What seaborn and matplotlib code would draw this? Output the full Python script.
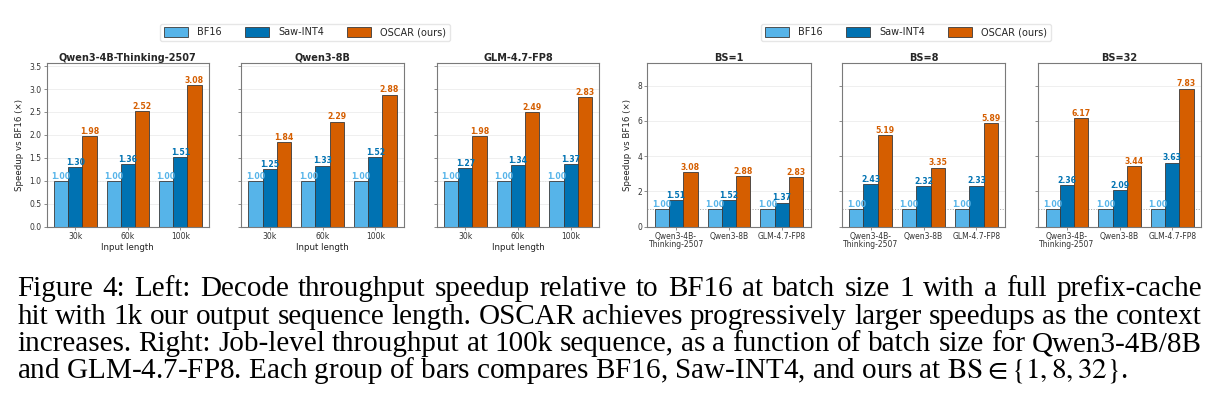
import numpy as np
import pandas as pd
import matplotlib
matplotlib.use("Agg")
import matplotlib.pyplot as plt
import seaborn as sns
from matplotlib.patches import Patch

# ---------------- data ----------------
methods = ["BF16", "Saw-INT4", "OSCAR (ours)"]
colors = ["#56B4E9", "#0072B2", "#D55E00"]

input_lengths = ["30k", "60k", "100k"]
left_titles = ["Qwen3-4B-Thinking-2507", "Qwen3-8B", "GLM-4.7-FP8"]
bf16_len = [1.00, 1.00, 1.00]
saw_qwen4b_len = [1.30, 1.36, 1.51]
oscar_qwen4b_len = [1.98, 2.52, 3.08]
saw_qwen8b_len = [1.25, 1.33, 1.52]
oscar_qwen8b_len = [1.84, 2.29, 2.88]
saw_glm_len = [1.27, 1.34, 1.37]
oscar_glm_len = [1.98, 2.49, 2.83]

model_labels = ["Qwen3-4B-\nThinking-2507", "Qwen3-8B", "GLM-4.7-FP8"]
right_titles = ["BS=1", "BS=8", "BS=32"]
bf16_bs = [1.00, 1.00, 1.00]
saw_bs1 = [1.51, 1.52, 1.37]
oscar_bs1 = [3.08, 2.88, 2.83]
saw_bs8 = [2.43, 2.32, 2.33]
oscar_bs8 = [5.19, 3.35, 5.89]
saw_bs32 = [2.36, 2.09, 3.63]
oscar_bs32 = [6.17, 3.44, 7.83]

left_yticks = [0.0, 0.5, 1.0, 1.5, 2.0, 2.5, 3.0, 3.5]
right_yticks = [0, 2, 4, 6, 8]

caption_lines = [
    "Figure 4: Left: Decode throughput speedup relative to BF16 at batch size 1 with a full prefix-cache",
    "hit with 1k our output sequence length. OSCAR achieves progressively larger speedups as the context",
    "increases. Right: Job-level throughput at 100k sequence, as a function of batch size for Qwen3-4B/8B",
]
caption_last = r"and GLM-4.7-FP8. Each group of bars compares BF16, Saw-INT4, and ours at $\mathrm{BS} \in \{1, 8, 32\}$."

# ---------------- style ----------------
sns.set_theme(style="whitegrid")
plt.rcParams.update({
    "font.family": ["DejaVu Sans"],
    "mathtext.fontset": "stix",
    "axes.edgecolor": "#7a7a7a",
    "axes.linewidth": 0.8,
    "grid.color": "#ececec",
    "grid.linewidth": 0.6,
    "xtick.color": "#7a7a7a",
    "ytick.color": "#7a7a7a",
    "xtick.labelcolor": "#333333",
    "ytick.labelcolor": "#333333",
    "xtick.major.size": 2.2,
    "ytick.major.size": 2.2,
    "xtick.major.width": 0.6,
    "ytick.major.width": 0.6,
    "xtick.bottom": True,
    "ytick.left": True,
})

W, H = 1221, 417
fig = plt.figure(figsize=(W / 100, H / 100), dpi=100)


def add_ax(x0, x1, ytop, ybot):
    return fig.add_axes([x0 / W, 1 - ybot / H, (x1 - x0) / W, (ybot - ytop) / H])


def draw_panel(ax, cats, bf16, saw, oscar, title, ymax, yticks, show_ylab, xlabel):
    df = pd.DataFrame({
        "cat": list(cats) * 3,
        "method": [methods[0]] * 3 + [methods[1]] * 3 + [methods[2]] * 3,
        "val": list(bf16) + list(saw) + list(oscar),
    })
    sns.barplot(data=df, x="cat", y="val", hue="method", hue_order=methods,
                order=cats, palette=colors, width=0.81, gap=0,
                edgecolor="#3a3a3a", linewidth=0.6, saturation=1,
                legend=False, ax=ax, errorbar=None)
    for cont, c in zip(ax.containers, colors):
        ax.bar_label(cont, fmt="%.2f", color=c, fontsize=5.6, fontweight="bold", padding=0.2)
    ax.set_xlim(-0.545, 2.545)
    ax.set_ylim(0, ymax)
    ax.set_yticks(yticks)
    ax.axhline(1.0, color="#b0b0b0", linestyle=(0, (1.2, 1.5)), linewidth=0.7, zorder=0.5)
    ax.grid(axis="x", visible=False)
    ax.grid(axis="y", visible=True)
    ax.set_axisbelow(True)
    ax.tick_params(axis="both", labelsize=5.5, pad=1.5)
    ax.set_title(title, fontsize=7, fontweight="bold", pad=1.8)
    if show_ylab:
        ax.set_ylabel("Speedup vs BF16 (×)", fontsize=6.2, color="#222222", labelpad=4)
        if isinstance(yticks[0], float):
            ax.set_yticklabels([f"{t:.1f}" for t in yticks])
    else:
        ax.set_ylabel("")
        ax.set_yticklabels([])
    ax.set_xlabel(xlabel, fontsize=6.2, color="#222222", labelpad=1.2)
    for sp in ax.spines.values():
        sp.set_visible(True)


ytop, ybot = 63.3, 226.7
left_pos = [(46.7, 209.0), (241.0, 404.0), (436.7, 599.3)]
right_pos = [(647.3, 810.7), (841.7, 1005.3), (1038.3, 1201.0)]

left_data = [(saw_qwen4b_len, oscar_qwen4b_len), (saw_qwen8b_len, oscar_qwen8b_len), (saw_glm_len, oscar_glm_len)]
right_data = [(saw_bs1, oscar_bs1), (saw_bs8, oscar_bs8), (saw_bs32, oscar_bs32)]

for i, ((x0, x1), (saw, osc)) in enumerate(zip(left_pos, left_data)):
    ax = add_ax(x0, x1, ytop, ybot)
    draw_panel(ax, input_lengths, bf16_len, saw, osc, left_titles[i], 3.56, left_yticks, i == 0, "Input length")

for i, ((x0, x1), (saw, osc)) in enumerate(zip(right_pos, right_data)):
    ax = add_ax(x0, x1, ytop, ybot)
    draw_panel(ax, model_labels, bf16_bs, saw, osc, right_titles[i], 9.27, right_yticks, i == 0, "")
    for lab in ax.get_xticklabels():
        lab.set_linespacing(0.9)

# ---------------- legends ----------------
handles = [Patch(facecolor=c, edgecolor="#3a3a3a", linewidth=0.6) for c in colors]
for cx in (305.0, 906.0):
    fig.legend(handles, methods, loc="center", bbox_to_anchor=(cx / W, 1 - 32.2 / H),
               ncol=3, fontsize=7, frameon=True, handlelength=2.5, handleheight=1.1,
               handletextpad=0.9, columnspacing=2.4, borderpad=0.35,
               edgecolor="#e6e6e6", fancybox=True, framealpha=1)

# ---------------- caption (justified) ----------------
serif = "Liberation Serif"
x_left, x_right = 17.3, 1201.7
avail = x_right - x_left
baselines = [296.0, 323.5, 351.0, 378.5]
renderer = fig.canvas.get_renderer()

# choose the largest size at which every justified line keeps a minimum word gap
fs0 = 19.0
scales = []
for line in caption_lines:
    words = line.split(" ")
    wsum = 0.0
    for w in words:
        t = fig.text(0, 0, w, fontsize=fs0, family=serif)
        wsum += t.get_window_extent(renderer).width
        t.remove()
    min_gap = 0.24 * fs0 * 100 / 72
    scales.append(avail / (wsum + (len(words) - 1) * min_gap))
fs = fs0 * min(scales)

for line, yb in zip(caption_lines, baselines):
    words = line.split(" ")
    ts = [fig.text(0, 1 - yb / H, w, fontsize=fs, family=serif, va="baseline", ha="left", color="black")
          for w in words]
    widths = [t.get_window_extent(renderer).width for t in ts]
    gap = (avail - sum(widths)) / (len(words) - 1)
    x = x_left
    for t, w in zip(ts, widths):
        t.set_x(x / W)
        x += w + gap
fig.text(x_left / W, 1 - baselines[3] / H, caption_last, fontsize=fs, family=serif,
         va="baseline", ha="left", color="black")

fig.savefig("out.png", dpi=100)
